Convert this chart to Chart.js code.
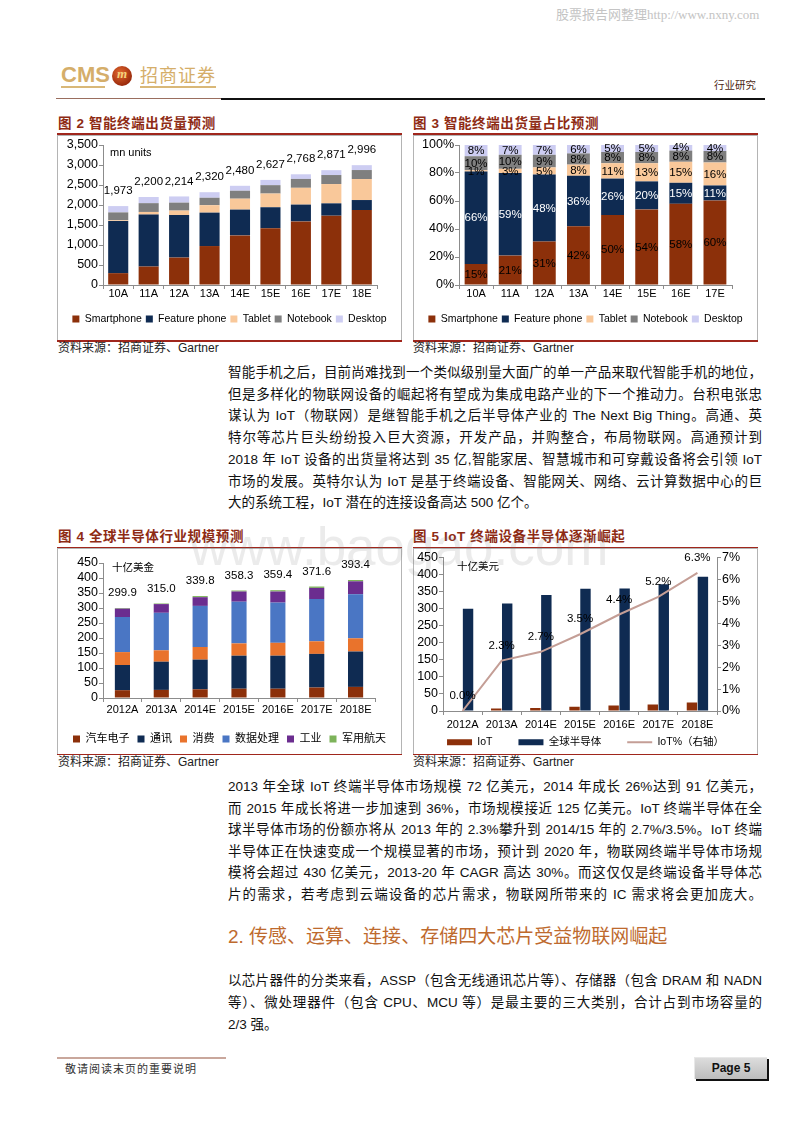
<!DOCTYPE html>
<html><head><meta charset="utf-8">
<script src="https://cdn.jsdelivr.net/npm/chart.js@4.4.1/dist/chart.umd.min.js"></script>
<style>
body{margin:0;background:#fff;}
#page{position:relative;width:800px;height:1132px;overflow:hidden;background:#fff;font-family:"Liberation Sans",Arial,"Noto Sans CJK SC",sans-serif;color:#111;}
#page>*{position:absolute;}
.ttl{font-size:13.5px;line-height:16px;font-weight:bold;color:#8E2B14;letter-spacing:0.6px;white-space:nowrap;}
.rl{height:1.5px;background:#A0261C;}
.bx{border:1px solid #B4B4B4;box-sizing:border-box;}
.src{font-size:12px;line-height:15px;color:#222;white-space:nowrap;}
.ln{left:228px;width:534px;height:22px;line-height:22px;font-size:13.5px;white-space:nowrap;text-align:justify;text-align-last:justify;color:#111;}
.ln.l{text-align-last:left;}
</style></head>
<body><div id="page">
<div style="left:556px;top:7px;font-size:13px;line-height:16px;font-family:'Liberation Serif','Noto Sans CJK SC',serif;color:#c4c4c4;white-space:nowrap">股票报告网整理http://www.nxny.com</div>

<div style="left:61px;top:62px;font:bold 22px 'Liberation Sans Narrow','Liberation Sans',sans-serif;color:#D5AE6A;line-height:26px">CMS</div>
<div style="left:61px;top:86px;width:44px;height:1.5px;background:#D9B878"></div>
<div style="left:112px;top:66px;width:20px;height:20px;border-radius:50%;background:radial-gradient(circle at 40% 35%,#E4682E,#9A2A0C 72%);"></div>
<div style="left:112px;top:66px;width:20px;height:20px;line-height:20px;text-align:center;font:italic bold 13px 'Liberation Serif',serif;color:#F4D27C">m</div>
<div style="left:140px;top:62px;font-size:18px;line-height:24px;letter-spacing:1px;font-family:'Noto Sans CJK SC',sans-serif;color:#D5AE6A;white-space:nowrap">招商证券</div>
<div style="left:140px;top:86px;width:76px;height:1.5px;background:#D9B878"></div>
<div style="left:714px;top:78px;font-size:10.5px;line-height:14px;font-family:'Noto Sans CJK SC',sans-serif;color:#4B1E12;white-space:nowrap">行业研究</div>
<div style="left:56px;top:98px;width:165px;height:1px;background:#9A6E5E"></div>
<div style="left:221px;top:97.5px;width:544px;height:2px;background:#111"></div>

<!-- Figure 2 -->
<div class="ttl" style="left:58px;top:116px">图 2 智能终端出货量预测</div>
<div class="rl" style="left:57px;top:133px;width:345px"></div>
<div class="bx" style="left:57px;top:135px;width:345px;height:206px"></div>
<canvas id="c2" width="343" height="204" style="left:58px;top:136px"></canvas>
<div class="rl" style="left:57px;top:340px;width:345px"></div>
<div class="src" style="left:58px;top:341px">资料来源：招商证券、Gartner</div>

<!-- Figure 3 -->
<div class="ttl" style="left:413px;top:116px">图 3 智能终端出货量占比预测</div>
<div class="rl" style="left:413px;top:133px;width:345px"></div>
<div class="bx" style="left:413px;top:135px;width:345px;height:206px"></div>
<canvas id="c3" width="343" height="204" style="left:414px;top:136px"></canvas>
<div class="rl" style="left:413px;top:340px;width:345px"></div>
<div class="src" style="left:413px;top:341px">资料来源：招商证券、Gartner</div>

<div class="ln" style="top:362px">智能手机之后，目前尚难找到一个类似级别量大面广的单一产品来取代智能手机的地位，</div>
<div class="ln" style="top:383.7px">但是多样化的物联网设备的崛起将有望成为集成电路产业的下一个推动力。台积电张忠</div>
<div class="ln" style="top:405.4px">谋认为 IoT（物联网）是继智能手机之后半导体产业的 The Next Big Thing。高通、英</div>
<div class="ln" style="top:427.1px">特尔等芯片巨头纷纷投入巨大资源，开发产品，并购整合，布局物联网。高通预计到</div>
<div class="ln" style="top:448.8px">2018 年 IoT 设备的出货量将达到 35 亿,智能家居、智慧城市和可穿戴设备将会引领 IoT</div>
<div class="ln" style="top:470.5px">市场的发展。英特尔认为 IoT 是基于终端设备、智能网关、网络、云计算数据中心的巨</div>
<div class="ln l" style="top:492.2px">大的系统工程，IoT 潜在的连接设备高达 500 亿个。</div>

<!-- Figure 4 -->
<div class="ttl" style="left:58px;top:529px">图 4 全球半导体行业规模预测</div>
<div class="rl" style="left:57px;top:546.5px;width:345px"></div>
<div class="bx" style="left:57px;top:548px;width:345px;height:207px"></div>
<canvas id="c4" width="343" height="205" style="left:58px;top:549px"></canvas>
<div class="rl" style="left:57px;top:753.5px;width:345px"></div>
<div class="src" style="left:58px;top:754.5px">资料来源：招商证券、Gartner</div>

<!-- Figure 5 -->
<div class="ttl" style="left:413px;top:529px">图 5 IoT 终端设备半导体逐渐崛起</div>
<div class="rl" style="left:413px;top:546.5px;width:345px"></div>
<div class="bx" style="left:413px;top:548px;width:345px;height:207px"></div>
<canvas id="c5" width="343" height="205" style="left:414px;top:549px"></canvas>
<div class="rl" style="left:413px;top:753.5px;width:345px"></div>
<div class="src" style="left:413px;top:754.5px">资料来源：招商证券、Gartner</div>

<div class="ln" style="top:776px">2013 年全球 IoT 终端半导体市场规模 72 亿美元，2014 年成长 26%达到 91 亿美元，</div>
<div class="ln" style="top:797.6px">而 2015 年成长将进一步加速到 36%，市场规模接近 125 亿美元。IoT 终端半导体在全</div>
<div class="ln" style="top:819.2px">球半导体市场的份额亦将从 2013 年的 2.3%攀升到 2014/15 年的 2.7%/3.5%。IoT 终端</div>
<div class="ln" style="top:840.8px">半导体正在快速变成一个规模显著的市场，预计到 2020 年，物联网终端半导体市场规</div>
<div class="ln" style="top:862.4px">模将会超过 430 亿美元，2013-20 年 CAGR 高达 30%。而这仅仅是终端设备半导体芯</div>
<div class="ln" style="top:884px">片的需求，若考虑到云端设备的芯片需求，物联网所带来的 IC 需求将会更加庞大。</div>

<div style="left:228px;top:924px;font-size:19px;line-height:26px;color:#BE6A2E;white-space:nowrap">2. 传感、运算、连接、存储四大芯片受益物联网崛起</div>

<div class="ln" style="top:970px">以芯片器件的分类来看，ASSP（包含无线通讯芯片等）、存储器（包含 DRAM 和 NADN</div>
<div class="ln" style="top:992px">等）、微处理器件（包含 CPU、MCU 等）是最主要的三大类别，合计占到市场容量的</div>
<div class="ln l" style="top:1014px">2/3 强。</div>

<div style="left:57px;top:1056.5px;width:169px;height:2px;background:#C9A79C"></div>
<div style="left:65px;top:1061px;font-size:11px;line-height:15px;letter-spacing:1px;font-family:'Noto Sans CJK SC',sans-serif;color:#333;white-space:nowrap">敬请阅读末页的重要说明</div>
<div style="left:694px;top:1057px;width:72px;height:21px;background:linear-gradient(#dcdcdc,#bdbdbd);border-top:1px solid #e8e8e8;border-left:1px solid #e8e8e8;box-shadow:2px 2px 0 #111;text-align:center;line-height:21px;font-weight:bold;font-size:12px;color:#111">Page 5</div>

<div style="left:190px;top:520px;font-size:53px;line-height:53px;color:rgba(120,120,120,0.15);white-space:nowrap;pointer-events:none">www.baogao.com</div>
</div>

<script>
// ---------- Data ----------
const cats2 = ['10A','11A','12A','13A','14E','15E','16E','17E','18E'];
const smartphone2 = [296, 462, 686, 974, 1240, 1419, 1590, 1733, 1874];
const feature2    = [1302, 1298, 1063, 835, 645, 525, 420, 308, 250];
const tablet2     = [20, 66, 111, 186, 273, 342, 420, 483, 525];
const notebook2   = [197, 220, 199, 186, 198, 210, 222, 225, 225];
const desktop2    = [158, 154, 155, 139, 124, 131, 116, 122, 122];

const cats3 = ['10A','11A','12A','13A','14E','15E','16E','17E'];
const smartphone3 = [15, 21, 31, 42, 50, 54, 58, 60.4];
const feature3    = [66, 59, 48, 36, 26, 20, 15, 10.7];
const tablet3     = [1, 3, 5, 8, 11, 13, 15, 16.4];
const notebook3   = [10, 10, 9, 8, 8, 8, 8, 8.2];
const desktop3    = [8, 7, 7, 6, 5, 5, 4, 4.3];

const cats4 = ['2012A','2013A','2014E','2015E','2016E','2017E','2018E'];
const auto4 = [26, 27, 29, 31, 31, 35, 37];
const comm4 = [84, 94, 99, 110, 110, 112, 118];
const cons4 = [43, 38, 42, 41, 43, 42, 44];
const data4 = [117, 125, 137, 139, 134, 141, 147];
const ind4  = [27.9, 29, 29, 34, 37, 37, 43];
const mil4  = [2, 2, 3.8, 3.3, 4.4, 4.6, 4.4];

const cats5 = ['2012A','2013A','2014E','2015E','2016E','2017E','2018E'];
const iot5  = [0, 7.2, 9.1, 12.5, 15.8, 19.3, 24.8];
const semi5 = [299.9, 315.0, 339.8, 358.3, 359.4, 371.6, 393.4];
const iotPct5 = [0.0, 2.3, 2.7, 3.5, 4.4, 5.2, 6.3];

// ---------- Styles ----------
const AX = '#8C8C8C';
const FONT = '"Liberation Sans", Arial, "Noto Sans CJK SC", sans-serif';
const BROWN = '#8C300A', NAVY = '#0F2B52', PEACH = '#F9C89A', GRAY = '#7F7F7F', LAV = '#CDCDF2';
const ORANGE = '#E9732C', BLUE = '#4A76C4', PURPLE = '#6B2D8F', GREEN = '#7DB35A', ROSE = '#C49E96';
const YFONT = 12.5, XFONT = 11;
Chart.defaults.font.family = FONT;
Chart.defaults.color = '#000';

function sumAt(arrs, i){ return arrs.reduce((s,a)=>s+a[i],0); }

function totalsPlugin(arrs, fmt, off){
  return {id:'totals', afterDatasetsDraw(chart){
    const {ctx, scales:{x,y}} = chart;
    ctx.save(); ctx.font = '11.5px ' + FONT; ctx.fillStyle = '#000';
    ctx.textAlign = 'center'; ctx.textBaseline = 'middle';
    chart.data.labels.forEach((_,i)=>{
      const t = sumAt(arrs,i);
      ctx.fillText(fmt(t), x.getPixelForValue(i), y.getPixelForValue(t) - off);
    });
    ctx.restore();
  }};
}
function unitPlugin(text, dx, dy, size){
  return {id:'unit', afterDraw(chart){
    const {ctx, chartArea} = chart;
    ctx.save(); ctx.font = size + 'px ' + FONT; ctx.fillStyle = '#000';
    ctx.textAlign = 'left'; ctx.textBaseline = 'middle';
    ctx.fillText(text, chartArea.left + dx, chartArea.top + dy);
    ctx.restore();
  }};
}
function xAxis(h, tl, pad, stacked){
  return {stacked:stacked, grid:{display:true, drawOnChartArea:false, tickLength:tl, color:AX, offset:true},
    border:{display:true, color:AX}, ticks:{font:{size:XFONT}, color:'#000', padding:pad, maxRotation:0, autoSkip:false},
    afterFit(s){ s.height = h; }};
}
function yAxis(min, max, step, fmt, w, pos, stacked){
  return {position:pos, stacked:stacked, min:min, max:max,
    grid:{display:true, drawOnChartArea:false, tickLength:4, color:AX},
    border:{display:true, color:AX},
    ticks:{stepSize:step, callback:fmt, font:{size:YFONT}, color:'#000', padding:1, autoSkip:false},
    afterFit(s){ s.width = w; }};
}
function dummyRight(w){
  return {position:'right', display:true, ticks:{display:false}, grid:{display:false}, border:{display:false}, afterFit(s){ s.width = w; }};
}

// ---------- Figure 2 ----------
new Chart(document.getElementById('c2'), {
  type:'bar',
  data:{labels:cats2, datasets:[
    {label:'Smartphone', data:smartphone2, backgroundColor:BROWN},
    {label:'Feature phone', data:feature2, backgroundColor:NAVY},
    {label:'Tablet', data:tablet2, backgroundColor:PEACH},
    {label:'Notebook', data:notebook2, backgroundColor:GRAY},
    {label:'Desktop', data:desktop2, backgroundColor:LAV}
  ]},
  options:{responsive:false, animation:false,
    layout:{padding:{top:9, bottom:5.75, left:0, right:0}},
    datasets:{bar:{categoryPercentage:1, barPercentage:0.66}},
    plugins:{tooltip:{enabled:false},
      legend:{position:'bottom', labels:{boxWidth:7, boxHeight:7, padding:4, font:{size:10.5}, color:'#000'}}},
    scales:{
      x:xAxis(24.75, 4, -2, true),
      y:yAxis(0, 3500, 500, v=>v.toLocaleString('en-US'), 45, 'left', true),
      yR:dummyRight(24)
    }},
  plugins:[totalsPlugin([smartphone2,feature2,tablet2,notebook2,desktop2], t=>Math.round(t).toLocaleString('en-US'), 15),
           unitPlugin('mn units', 7, 8, 11)]
});

// ---------- Figure 3 ----------
new Chart(document.getElementById('c3'), {
  type:'bar',
  data:{labels:cats3, datasets:[
    {label:'Smartphone', data:smartphone3, backgroundColor:BROWN},
    {label:'Feature phone', data:feature3, backgroundColor:NAVY},
    {label:'Tablet', data:tablet3, backgroundColor:PEACH},
    {label:'Notebook', data:notebook3, backgroundColor:GRAY},
    {label:'Desktop', data:desktop3, backgroundColor:LAV}
  ]},
  options:{responsive:false, animation:false,
    layout:{padding:{top:9, bottom:5.75, left:0, right:0}},
    datasets:{bar:{categoryPercentage:1, barPercentage:0.67}},
    plugins:{tooltip:{enabled:false},
      legend:{position:'bottom', labels:{boxWidth:7, boxHeight:7, padding:4, font:{size:10.5}, color:'#000'}}},
    scales:{
      x:xAxis(24.75, 4, -2, true),
      y:yAxis(0, 100, 20, v=>v+'%', 45, 'left', true),
      yR:dummyRight(25)
    }},
  plugins:[{id:'seglabels', afterDatasetsDraw(chart){
    const ctx = chart.ctx;
    ctx.save(); ctx.font = '11.5px ' + FONT; ctx.textAlign = 'center'; ctx.textBaseline = 'middle';
    chart.data.datasets.forEach((ds,di)=>{
      chart.getDatasetMeta(di).data.forEach((bar,i)=>{
        ctx.fillStyle = di === 1 ? '#fff' : '#000';
        ctx.fillText(Math.round(ds.data[i]) + '%', bar.x, (bar.y + bar.base)/2 + 0.5);
      });
    });
    ctx.restore();
  }}]
});

// ---------- Figure 4 ----------
new Chart(document.getElementById('c4'), {
  type:'bar',
  data:{labels:cats4, datasets:[
    {label:'汽车电子', data:auto4, backgroundColor:BROWN},
    {label:'通讯', data:comm4, backgroundColor:NAVY},
    {label:'消费', data:cons4, backgroundColor:ORANGE},
    {label:'数据处理', data:data4, backgroundColor:BLUE},
    {label:'工业', data:ind4, backgroundColor:PURPLE},
    {label:'军用航天', data:mil4, backgroundColor:GREEN}
  ]},
  options:{responsive:false, animation:false,
    layout:{padding:{top:14, bottom:2.5, left:0, right:0}},
    datasets:{bar:{categoryPercentage:1, barPercentage:0.39}},
    plugins:{tooltip:{enabled:false},
      legend:{position:'bottom', maxHeight:26, labels:{boxWidth:7, boxHeight:7, padding:8, font:{size:11}, color:'#000'}}},
    scales:{
      x:xAxis(27.5, 4, 1, true),
      y:yAxis(0, 450, 50, v=>v, 45, 'left', true),
      yR:dummyRight(26)
    }},
  plugins:[totalsPlugin([auto4,comm4,cons4,data4,ind4,mil4], t=>t.toFixed(1), 15),
           unitPlugin('十亿美金', 9, 5, 10.5)]
});

// ---------- Figure 5 ----------
new Chart(document.getElementById('c5'), {
  type:'bar',
  data:{labels:cats5, datasets:[
    {label:'IoT', data:iot5, backgroundColor:BROWN, yAxisID:'y', order:1},
    {label:'全球半导体', data:semi5, backgroundColor:NAVY, yAxisID:'y', order:1},
    {type:'line', label:'IoT%（右轴）', data:iotPct5, borderColor:ROSE, backgroundColor:ROSE, borderWidth:2,
     pointRadius:0, tension:0, fill:false, yAxisID:'y1', order:0}
  ]},
  options:{responsive:false, animation:false,
    layout:{padding:{top:8, bottom:1, left:0, right:0}},
    datasets:{bar:{categoryPercentage:0.56, barPercentage:0.95}},
    plugins:{tooltip:{enabled:false},
      legend:{position:'bottom', maxHeight:22, labels:{usePointStyle:true, pointStyleWidth:25, boxWidth:25, boxHeight:6,
        padding:26, font:{size:10.5}, color:'#000',
        sort:(a,b)=>a.datasetIndex-b.datasetIndex,
        generateLabels(chart){
          const items = Chart.defaults.plugins.legend.labels.generateLabels(chart);
          items.forEach(it=>{ it.pointStyle = chart.data.datasets[it.datasetIndex].type === 'line' ? 'line' : 'rect'; });
          return items;
        }}}},
    scales:{
      x:xAxis(20, 4, 3, false),
      y:yAxis(0, 450, 50, v=>v, 29, 'left', false),
      y1:yAxis(0, 7, 1, v=>v+'%', 40, 'right', false)
    }},
  plugins:[{id:'legendShift', afterLayout(chart){
      const L = chart.legend; if (!L) return;
      L.top = chart.chartArea.bottom; L.bottom = chart.height; L.height = L.bottom - L.top;
    }},
    {id:'linelabels', afterDatasetsDraw(chart){
    const ctx = chart.ctx;
    ctx.save(); ctx.font = '11.5px ' + FONT; ctx.fillStyle = '#000'; ctx.textAlign = 'center'; ctx.textBaseline = 'middle';
    chart.getDatasetMeta(2).data.forEach((pt,i)=>{
      ctx.fillText(iotPct5[i].toFixed(1) + '%', pt.x, pt.y - 15);
    });
    ctx.restore();
  }}, unitPlugin('十亿美元', 14, 10, 10.5)]
});
</script>
</body></html>
